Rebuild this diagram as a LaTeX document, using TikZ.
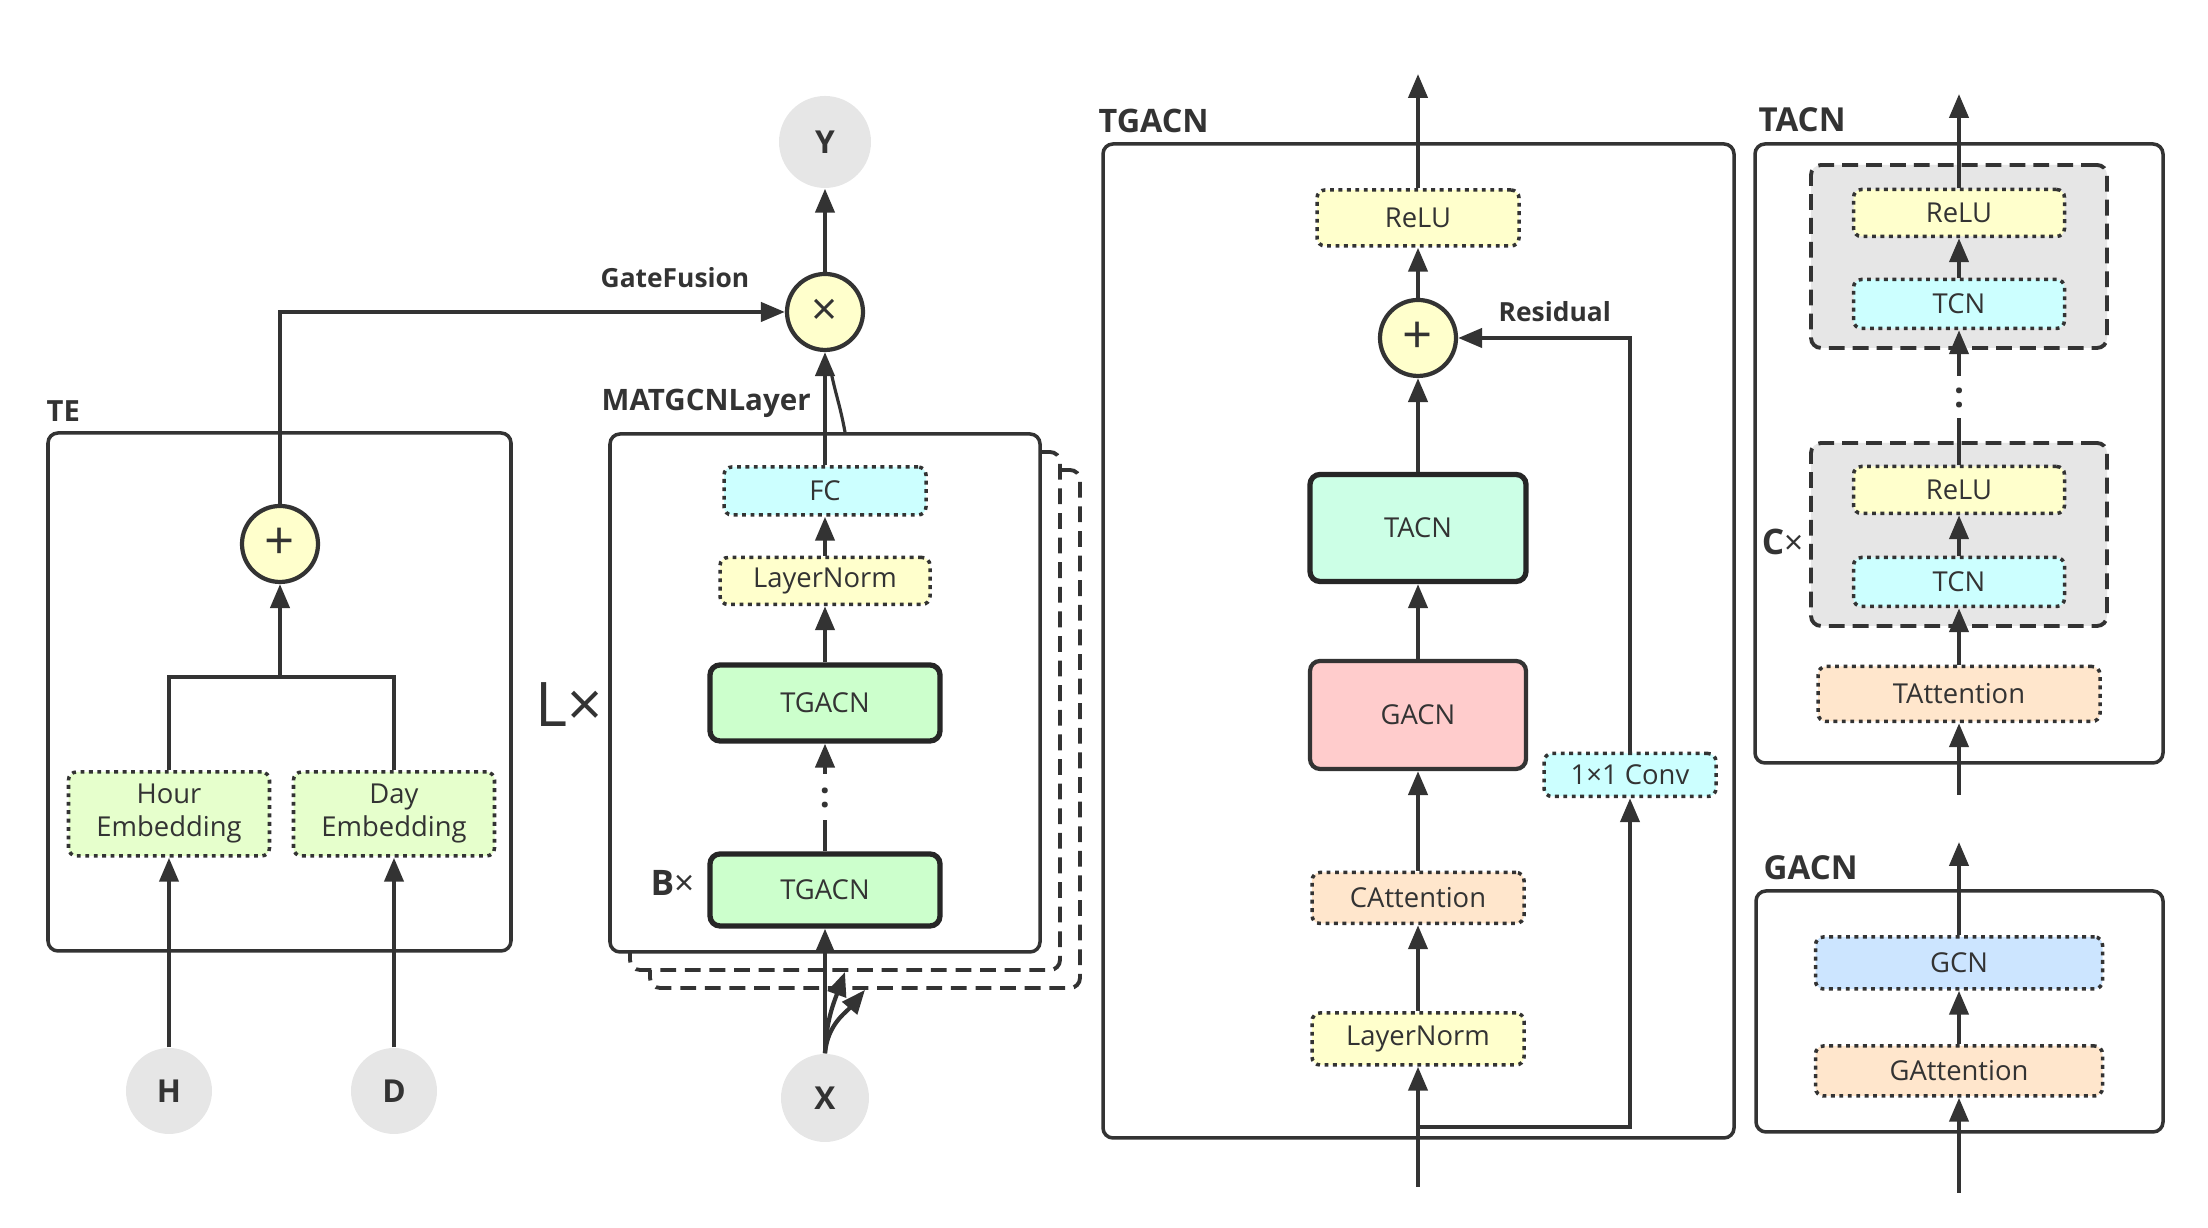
\documentclass[tikz,border=0pt]{standalone}
\usepackage{fontspec}
\setmainfont{Open Sans}
\usetikzlibrary{arrows.meta, positioning, calc}
\definecolor{mgline}{HTML}{333333}
\definecolor{mggray}{HTML}{E6E6E6}
\definecolor{mgyellow}{HTML}{FFFFCC}
\definecolor{mglime}{HTML}{E6FFCC}
\definecolor{mgcyan}{HTML}{CCFFFF}
\definecolor{mggreen}{HTML}{CCFFCC}
\definecolor{mgmint}{HTML}{CCFFE6}
\definecolor{mgpink}{HTML}{FFCCCC}
\definecolor{mgpeach}{HTML}{FFE6CC}
\definecolor{mgblue}{HTML}{CCE5FF}

\begin{document}
\begin{tikzpicture}[
    font=\fontsize{7.8}{9.4}\selectfont,
    text=mgline,
    >={Triangle[length=2.4mm, width=1.9mm]},
    % Styles for boxes, operators and arrows
    panel/.style={draw=mgline, line width=1pt, rounded corners=1mm, fill=white},
    stackbox/.style={panel, line width=1.1pt, dash pattern=on 4.5pt off 2.5pt},
    groupbox/.style={draw=mgline, line width=1.1pt, dash pattern=on 4.5pt off 2.3pt, fill=mggray, rounded corners=1mm},
    opbox/.style={draw=mgline, line width=1pt, dash pattern=on 1.1pt off 1.3pt, rounded corners=0.8mm, inner sep=0pt, align=center},
    mainblock/.style={draw=black!85, line width=1.5pt, rounded corners=1mm, inner sep=0pt},
    opcircle/.style={circle, draw=mgline, line width=1.2pt, fill=mgyellow, minimum size=7.6mm, inner sep=0pt, font=\fontsize{15}{15}\selectfont},
    datacircle/.style={circle, fill=mggray, inner sep=0pt, font=\bfseries\fontsize{9}{9}\selectfont},
    paneltitle/.style={anchor=west, inner sep=0pt, font=\bfseries\fontsize{7.5}{9}\selectfont},
    bigtitle/.style={paneltitle, font=\bfseries\fontsize{9.2}{10}\selectfont},
    flow/.style={->, line width=1.2pt, draw=mgline},
    wire/.style={line width=1.2pt, draw=mgline},
    gapdots/.style={fill=white, inner sep=0pt, minimum width=1.6mm, minimum height=4.6mm, font=\bfseries}
]
\useasboundingbox (0,0) rectangle (22.08,12.28);

% ----------------------------------------------------
% TE (temporal embedding)
% ----------------------------------------------------
\node[panel, minimum width=4.63cm, minimum height=5.18cm] (te) at (2.795, 5.36) {};
\node[paneltitle, font=\bfseries\fontsize{8.3}{9}\selectfont] at (0.46, 8.17) {TE};
\node[opcircle] (teplus) at (2.80, 6.84) {+};
\node[opbox, fill=mglime, minimum width=2.01cm, minimum height=0.84cm] (hour) at (1.69, 4.14) {Hour\\Embedding};
\node[opbox, fill=mglime, minimum width=2.01cm, minimum height=0.84cm] (day) at (3.94, 4.14) {Day\\Embedding};
\node[datacircle, minimum size=8.6mm] (H) at (1.69, 1.37) {H};
\node[datacircle, minimum size=8.6mm] (D) at (3.94, 1.37) {D};
\coordinate (tejoin) at (2.80, 5.51);

\draw[flow] (H) -- (hour);
\draw[flow] (D) -- (day);
\draw[wire] (hour.north) |- (tejoin) -| (day.north);
\draw[flow] (tejoin) -- (teplus);

% ----------------------------------------------------
% MATGCN layers (stacked L times)
% ----------------------------------------------------
\node[stackbox, minimum width=4.30cm, minimum height=5.18cm] (layer2) at (8.65, 4.99) {};
\node[stackbox, minimum width=4.30cm, minimum height=5.18cm] (layer1) at (8.45, 5.17) {};
\node[panel, minimum width=4.30cm, minimum height=5.18cm] (layer) at (8.25, 5.35) {};
\node[paneltitle, font=\bfseries\fontsize{8.4}{10}\selectfont] at (6.01, 8.25) {MATGCNLayer};
\node[inner sep=0pt, font=\fontsize{17.5}{18}\selectfont] at (5.69, 5.23) {L×};
\node[anchor=east, inner sep=0pt] at (6.95, 3.45) {{\bfseries\fontsize{10}{10}\selectfont B}{\fontsize{10}{10}\selectfont ×}};

\node[opbox, fill=mgcyan, minimum width=2.02cm, minimum height=0.48cm] (fc) at (8.25, 7.37) {FC};
\node[opbox, fill=mgyellow, minimum width=2.10cm, minimum height=0.47cm] (mnorm) at (8.25, 6.47) {LayerNorm};
\node[mainblock, fill=mggreen, minimum width=2.30cm, minimum height=0.76cm] (tgU) at (8.25, 5.25) {TGACN};
\node[mainblock, fill=mggreen, minimum width=2.30cm, minimum height=0.72cm] (tgL) at (8.25, 3.38) {TGACN};
\node[datacircle, minimum size=8.8mm] (X) at (8.25, 1.30) {X};

% Gate fusion and output
\node[opcircle, font=\fontsize{13}{13}\selectfont] (mul) at (8.25, 9.16) {×};
\node[datacircle, minimum size=9.2mm] (Y) at (8.25, 10.86) {Y};
\node[paneltitle] at (6.00, 9.50) {GateFusion};
\coordinate (stackjoin) at (8.31, 8.56);

\draw[flow] (X) -- (tgL);
\draw[flow] (tgL) -- node[gapdots] {:} (tgU);
\draw[flow] (tgU) -- (mnorm);
\draw[flow] (mnorm) -- (fc);
\draw[flow] (fc) -- (mul);
\draw[flow] (mul) -- (Y);
\draw[flow] (teplus) |- (mul);
\draw[wire, line width=0.9pt] (layer1.north |- layer.north) to[out=100, in=-78] (stackjoin);
\draw[flow] (X.north) to[out=88, in=-110] (layer1.south);
\draw[flow] (X.north) to[out=85, in=-130] (layer2.south);

% ----------------------------------------------------
% TGACN block
% ----------------------------------------------------
\node[panel, minimum width=6.31cm, minimum height=9.94cm] (tgacn) at (14.185, 5.87) {};
\node[bigtitle] at (10.98, 11.07) {TGACN};
\node[opbox, fill=mgyellow, minimum width=2.02cm, minimum height=0.56cm] (tgrelu) at (14.18, 10.10) {ReLU};
\node[opcircle] (tgplus) at (14.18, 8.90) {+};
\node[paneltitle] at (14.98, 9.16) {Residual};
\node[mainblock, fill=mgmint, minimum width=2.16cm, minimum height=1.07cm] (tacnB) at (14.18, 7.00) {TACN};
\node[mainblock, draw=mgline, line width=1.2pt, fill=mgpink, minimum width=2.16cm, minimum height=1.08cm] (gacnB) at (14.18, 5.13) {GACN};
\node[opbox, fill=mgcyan, minimum width=1.72cm, minimum height=0.43cm] (conv) at (16.30, 4.53) {1×1 Conv};
\node[opbox, fill=mgpeach, minimum width=2.12cm, minimum height=0.51cm] (catt) at (14.18, 3.30) {CAttention};
\node[opbox, fill=mgyellow, minimum width=2.12cm, minimum height=0.52cm] (tgnorm) at (14.18, 1.89) {LayerNorm};
\coordinate (tgin) at (14.18, 0.41);
\coordinate (tgsplit) at (14.18, 1.01);
\coordinate (tgout) at (14.18, 11.54);

\draw[flow] (tgin) -- (tgnorm);
\draw[flow] (tgsplit) -| (conv);
\draw[flow] (tgnorm) -- (catt);
\draw[flow] (catt) -- (gacnB);
\draw[flow] (gacnB) -- (tacnB);
\draw[flow] (tacnB) -- (tgplus);
\draw[flow] (conv) |- (tgplus);
\draw[flow] (tgplus) -- (tgrelu);
\draw[flow] (tgrelu) -- (tgout);

% ----------------------------------------------------
% TACN block
% ----------------------------------------------------
\node[panel, minimum width=4.08cm, minimum height=6.19cm] (tacn) at (19.59, 7.745) {};
\node[bigtitle, font=\bfseries\fontsize{9.4}{10}\selectfont] at (17.58, 11.08) {TACN};
\node[groupbox, minimum width=2.96cm, minimum height=1.83cm] (grpU) at (19.59, 9.715) {};
\node[groupbox, minimum width=2.96cm, minimum height=1.83cm] (grpL) at (19.59, 6.935) {};
\node[opbox, fill=mgyellow, minimum width=2.11cm, minimum height=0.47cm] (reluU) at (19.59, 10.15) {ReLU};
\node[opbox, fill=mgcyan, minimum width=2.11cm, minimum height=0.49cm] (tcnU) at (19.59, 9.24) {TCN};
\node[opbox, fill=mgyellow, minimum width=2.11cm, minimum height=0.47cm] (reluL) at (19.59, 7.38) {ReLU};
\node[opbox, fill=mgcyan, minimum width=2.11cm, minimum height=0.49cm] (tcnL) at (19.59, 6.46) {TCN};
\node[opbox, fill=mgpeach, minimum width=2.82cm, minimum height=0.55cm] (tatt) at (19.59, 5.34) {TAttention};
\node[anchor=east, inner sep=0pt] at (18.04, 6.86) {{\bfseries\fontsize{10}{10}\selectfont C}{\fontsize{9.5}{10}\selectfont ×}};
\coordinate (tcin) at (19.59, 4.33);
\coordinate (tcout) at (19.59, 11.34);

\draw[flow] (tcin) -- (tatt);
\draw[flow] (tatt) -- (tcnL);
\draw[flow] (tcnL) -- (reluL);
\draw[flow] (reluL) -- node[gapdots, minimum height=4.2mm] {:} (tcnU);
\draw[flow] (tcnU) -- (reluU);
\draw[flow] (reluU) -- (tcout);

% ----------------------------------------------------
% GACN block
% ----------------------------------------------------
\node[panel, minimum width=4.07cm, minimum height=2.41cm] (gacn) at (19.595, 2.165) {};
\node[bigtitle, font=\bfseries\fontsize{9.4}{10}\selectfont] at (17.63, 3.60) {GACN};
\node[opbox, fill=mgblue, minimum width=2.87cm, minimum height=0.52cm] (gcn) at (19.59, 2.65) {GCN};
\node[opbox, fill=mgpeach, minimum width=2.87cm, minimum height=0.50cm] (gatt) at (19.59, 1.57) {GAttention};
\coordinate (gain) at (19.59, 0.35);
\coordinate (gaout) at (19.59, 3.86);

\draw[flow] (gain) -- (gatt);
\draw[flow] (gatt) -- (gcn);
\draw[flow] (gcn) -- (gaout);

\end{tikzpicture}
\end{document}
